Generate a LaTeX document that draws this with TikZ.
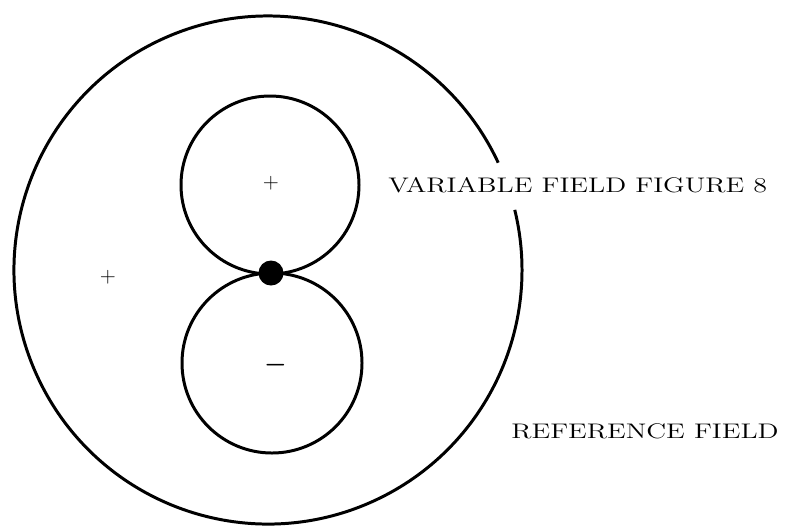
\documentclass[tikz,border=0pt]{standalone}
\usepackage{amsmath}
\usepackage{tikz}
\usepackage{graphicx}
\usetikzlibrary{positioning}
\tikzset{
  fieldline/.style={line width=1.7pt},
  lobe/.style={circle, draw, line width=1.7pt, inner sep=0pt},
  pole/.style={circle, fill=black, inner sep=0pt, minimum size=5mm},
  signlabel/.style={inner sep=0pt},
  fieldlabel/.style={font=\fontsize{12}{14}\selectfont, anchor=west, inner sep=0pt},
}
\newcommand{\widetext}[1]{\scalebox{1.33}[1]{#1}}

\begin{document}
\begin{tikzpicture}
  \useasboundingbox (0,0) rectangle (15.74,-10.58);
  % reference field (broken near the label)
  \coordinate (ref) at (5.36,-5.40);
  \draw[fieldline] ([shift={(25:5.08)}]ref) arc[start angle=25, end angle=373.7, radius=5.08];
  % variable field figure 8
  \node[lobe, minimum size=35.6mm] (upper) at (5.40,-3.70) {};
  \node[lobe, minimum size=36mm] (lower) at (5.44,-7.26) {};
  \node[pole] (pole) at (5.42,-5.46) {};
  % signs
  \node[signlabel, font=\large] (pplus) at (5.42,-3.66) {+};
  \node[signlabel, font=\large] (rplus) at (2.16,-5.54) {+};
  \node[signlabel, font=\Large] (vminus) at (5.51,-7.31) {$\boldsymbol{-}$};
  % labels
  \node[fieldlabel] (varlabel) at (7.76,-3.70) {\widetext{VARIABLE FIELD FIGURE 8}};
  \node[fieldlabel] (reflabel) at (10.22,-8.62) {\widetext{REFERENCE FIELD}};
\end{tikzpicture}
\end{document}
